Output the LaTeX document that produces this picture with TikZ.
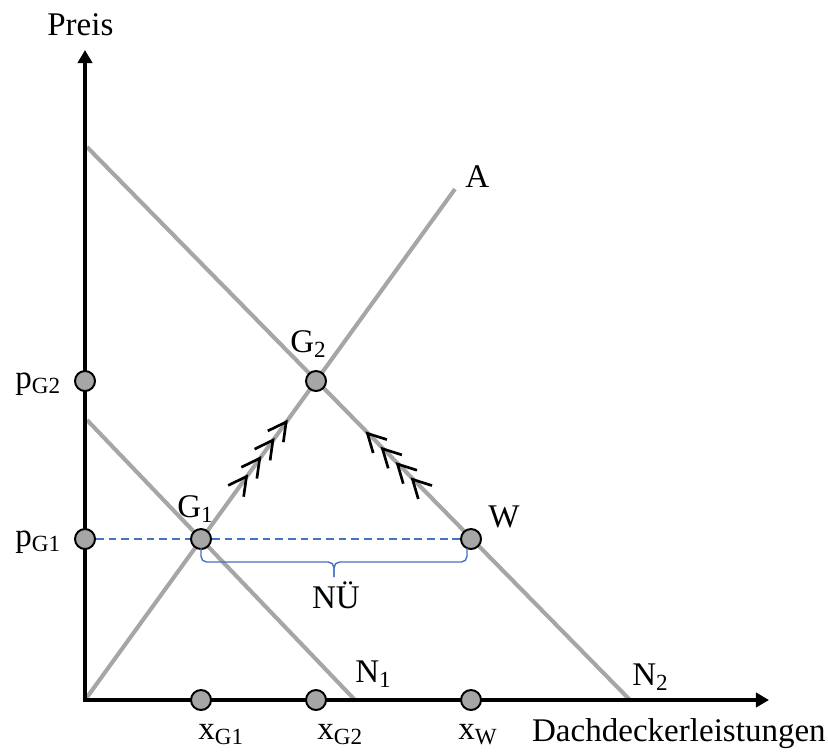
\documentclass[tikz,border=0pt]{standalone}
\usepackage{fontspec}
\setmainfont{Liberation Serif}
\usetikzlibrary{arrows.meta,decorations.markings}

\definecolor{curvegray}{HTML}{A6A6A6}
\definecolor{guideblue}{HTML}{4472C4}

\begin{document}
\begin{tikzpicture}[
        x=0.025cm, y=-0.025cm,
        font=\fontsize{23.5}{28}\selectfont,
        axis/.style={line width=2.6pt, {Triangle[length=3.3mm, width=3.6mm]}-{Triangle[length=3.3mm, width=3.6mm]}},
        curve/.style={curvegray, line width=2.9pt},
        dot/.style={circle, draw=black, fill=curvegray, line width=1.4pt, minimum size=5mm, inner sep=0pt},
        lbl/.style={anchor=base west, inner sep=0pt},
        guide/.style={guideblue, line width=1pt, dash pattern=on 5.5pt off 3.5pt},
        brk/.style={guideblue, line width=1pt, rounded corners=4pt},
        chevs/.style n args={3}{decorate,
            decoration={markings, mark=between positions #1 and #2 step #3 with
                {\arrow{Straight Barb[length=4.5mm, width=4.8mm, line width=1.9pt]}}}}
    ]
        \useasboundingbox (0,0) rectangle (828,751);

        % axes and curves
        \coordinate (O) at (85,700);
        \coordinate (ytip) at (85,50);
        \coordinate (xtip) at (769,700);
        \coordinate (Ahi) at (455,189);
        \coordinate (N1hi) at (87,420);
        \coordinate (N1lo) at (355,700);
        \coordinate (N2hi) at (87,147);
        \coordinate (N2lo) at (630,700);

        \draw[curve] (O) -- (Ahi);
        \draw[curve] (N1hi) -- (N1lo);
        \draw[curve] (N2hi) -- (N2lo);
        \draw[axis] (ytip) -- (O) -- (xtip);

        % points
        \node[dot] (pG2) at (85,381) {};
        \node[dot] (pG1) at (85,539) {};
        \node[dot] (G2) at (316,381) {};
        \node[dot] (G1) at (201,539) {};
        \node[dot] (W) at (471,539) {};
        \node[dot] (xG1) at (201,700) {};
        \node[dot] (xG2) at (316,700) {};
        \node[dot] (xW) at (471,700) {};

        \draw[guide] (pG1) -- (G1) -- (W);
        \draw[brk] (201,548) -- (201,562) -- (334,562) -- (334,577);
        \draw[brk] (467,548) -- (467,562) -- (334,562) -- (334,577);

        % adjustment
        \path[chevs={0.41}{0.76}{0.115}] (G1.center) -- (G2.center);
        \path[chevs={0.39}{0.69}{0.097}] (W.center) -- (G2.center);

        % labels
        \node[lbl] (preis) at (47,35) {Preis};
        \node[lbl] (lpG2) at (15,388) {p\textsubscript{G2}};
        \node[lbl] (lpG1) at (15,546) {p\textsubscript{G1}};
        \node[lbl] (lG1) at (177,517) {G\textsubscript{1}};
        \node[lbl] (lG2) at (290,352) {G\textsubscript{2}};
        \node[lbl] (lA) at (465,187) {A};
        \node[lbl] (lW) at (488,527) {W};
        \node[lbl, anchor=base] (lnu) at (336,608) {NÜ};
        \node[lbl] (lN1) at (355,682) {N\textsubscript{1}};
        \node[lbl] (lN2) at (632,685) {N\textsubscript{2}};
        \node[lbl] (lxG1) at (198,739) {x\textsubscript{G1}};
        \node[lbl] (lxG2) at (317,739) {x\textsubscript{G2}};
        \node[lbl] (lxW) at (458,739) {x\textsubscript{W}};
        \node[lbl, anchor=base east] (lx) at (826,741) {Dachdeckerleistungen};
    \end{tikzpicture}
\end{document}
